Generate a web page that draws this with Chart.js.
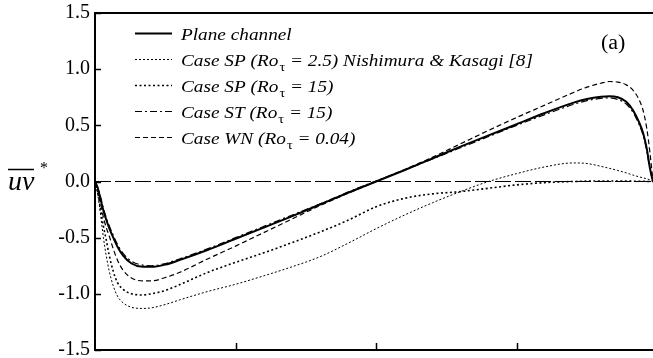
<!DOCTYPE html>
<html>
<head>
<meta charset="utf-8">
<script src="https://cdn.jsdelivr.net/npm/chart.js@4/dist/chart.umd.min.js"></script>
<style>
  html, body { margin: 0; padding: 0; background: #fff; overflow: hidden; }
</style>
</head>
<body>
<canvas id="uvChart" width="653" height="358"></canvas>
<script>
// wall-normal position (0..2) shared by every profile
const xs = [0, 0.01, 0.02, 0.03, 0.04, 0.05, 0.065, 0.08, 0.1, 0.13,
            0.17, 0.2, 0.25, 0.3, 0.4, 0.5, 0.6, 0.7, 0.8, 0.9,
            1.0, 1.1, 1.2, 1.3, 1.4, 1.5, 1.6, 1.7, 1.75, 1.8,
            1.83, 1.86, 1.89, 1.915, 1.935, 1.95, 1.963, 1.974, 1.98, 1.985];

const plane = [0, -0.06, -0.16, -0.26, -0.34, -0.41, -0.5, -0.58, -0.66, -0.73,
               -0.76, -0.76, -0.74, -0.70, -0.61, -0.51, -0.41, -0.31, -0.205, -0.10,
               0, 0.10, 0.205, 0.31, 0.41, 0.51, 0.61, 0.70, 0.735, 0.755,
               0.76, 0.75, 0.71, 0.63, 0.53, 0.43, 0.29, 0.12, 0.05, 0];

const sp25 = [0, -0.12, -0.3, -0.5, -0.66, -0.79, -0.93, -1.02, -1.08, -1.12,
              -1.13, -1.125, -1.095, -1.055, -0.98, -0.915, -0.84, -0.76, -0.67, -0.55,
              -0.42, -0.3, -0.19, -0.09, 0.0, 0.07, 0.13, 0.165, 0.16, 0.135,
              0.117, 0.098, 0.077, 0.056, 0.042, 0.032, 0.024, 0.014, 0.007, 0];

const sp15 = [0, -0.1, -0.25, -0.4, -0.52, -0.65, -0.8, -0.9, -0.96, -1.0,
              -1.01, -1.0, -0.97, -0.92, -0.81, -0.72, -0.635, -0.545, -0.45, -0.345,
              -0.225, -0.15, -0.11, -0.09, -0.06, -0.03, -0.01, 0, 0.003, 0.005,
              0.005, 0.005, 0.004, 0.003, 0.002, 0.002, 0.001, 0, 0, 0];

const st15 = [0, -0.05, -0.14, -0.24, -0.32, -0.39, -0.48, -0.56, -0.64, -0.71,
              -0.745, -0.75, -0.73, -0.69, -0.60, -0.50, -0.40, -0.30, -0.20, -0.095,
              0.005, 0.10, 0.20, 0.30, 0.40, 0.50, 0.595, 0.685, 0.72, 0.74,
              0.745, 0.73, 0.69, 0.61, 0.51, 0.41, 0.27, 0.11, 0.045, 0];

const wn = [0, -0.08, -0.2, -0.32, -0.41, -0.48, -0.6, -0.7, -0.79, -0.86,
            -0.885, -0.885, -0.855, -0.81, -0.69, -0.575, -0.455, -0.335, -0.215, -0.105,
            0, 0.105, 0.215, 0.335, 0.455, 0.57, 0.68, 0.79, 0.84, 0.875,
            0.89, 0.885, 0.86, 0.81, 0.73, 0.63, 0.47, 0.26, 0.12, 0];

const zeroLine = [0, 0];

// legend text: [before subscript, subscript, after subscript]
const legendLabels = [
  ['Plane channel', '', ''],
  ['Case SP (Ro', 'τ', ' = 2.5) Nishimura & Kasagi [8]'],
  ['Case SP (Ro', 'τ', ' = 15)'],
  ['Case ST (Ro', 'τ', ' = 15)'],
  ['Case WN (Ro', 'τ', ' = 0.04)']
];

const yTicks = [-1.5, -1.0, -0.5, 0.0, 0.5, 1.0, 1.5];
const xTicks = [0.5, 1.0, 1.5];

const pts = arr => arr.map((v, i) => ({ x: xs[i], y: v }));
const serif = "'Liberation Serif', 'Times New Roman', serif";

const frame = {
  id: 'frame',
  afterDraw(chart) {
    const { ctx, chartArea: a, scales } = chart;
    ctx.save();
    ctx.strokeStyle = '#000';
    ctx.lineWidth = 2;
    ctx.beginPath();
    ctx.moveTo(a.right + 2, a.top);
    ctx.lineTo(a.left, a.top);
    ctx.lineTo(a.left, a.bottom);
    ctx.lineTo(a.right + 2, a.bottom);
    ctx.stroke();

    ctx.lineWidth = 1.5;
    ctx.beginPath();
    yTicks.forEach(v => {
      const py = Math.round(scales.y.getPixelForValue(v)) + 0.5;
      ctx.moveTo(a.left, py);
      ctx.lineTo(a.left + 6, py);
    });
    xTicks.forEach(v => {
      const px = Math.round(scales.x.getPixelForValue(v)) + 0.5;
      ctx.moveTo(px, a.bottom);
      ctx.lineTo(px, a.bottom - 7);
    });
    ctx.stroke();

    // y axis title: overlined uv with a star
    ctx.fillStyle = '#000';
    ctx.font = 'italic 28px ' + serif;
    ctx.textBaseline = 'alphabetic';
    ctx.textAlign = 'left';
    ctx.fillText('uv', 8, 190);
    ctx.lineWidth = 1.5;
    ctx.beginPath();
    ctx.moveTo(8, 169.5);
    ctx.lineTo(34, 169.5);
    ctx.stroke();
    ctx.font = '16px ' + serif;
    ctx.fillText('*', 40, 173);

    // panel label
    ctx.save();
    ctx.translate(601, 49);
    ctx.scale(1.1, 1);
    ctx.font = '20px ' + serif;
    ctx.fillText('(a)', 0, 0);
    ctx.restore();

    // legend
    const sx = 1.1;
    legendLabels.forEach((lab, i) => {
      const ds = chart.data.datasets[i];
      const ly = 33.5 + i * 26;
      ctx.save();
      ctx.strokeStyle = '#000';
      ctx.lineWidth = ds.borderWidth;
      ctx.setLineDash(ds.borderDash || []);
      ctx.beginPath();
      ctx.moveTo(135, ly);
      ctx.lineTo(172, ly);
      ctx.stroke();
      ctx.restore();

      ctx.save();
      ctx.translate(181, ly + 6);
      ctx.scale(sx, 1);
      ctx.font = 'italic 17.5px ' + serif;
      ctx.fillText(lab[0], 0, 0);
      let w = ctx.measureText(lab[0]).width;
      if (lab[1]) {
        ctx.font = '13px ' + serif;
        ctx.fillText(lab[1], w + 1, 5);
        w += ctx.measureText(lab[1]).width + 1;
        ctx.font = 'italic 17.5px ' + serif;
        ctx.fillText(lab[2], w, 0);
      }
      ctx.restore();
    });
    ctx.restore();
  }
};

const line = (data, width, dash) => ({
  data: pts(data),
  borderColor: '#000',
  borderWidth: width,
  borderDash: dash,
  pointRadius: 0,
  fill: false,
  cubicInterpolationMode: 'monotone'
});

const ctx = document.getElementById('uvChart').getContext('2d');
const uvChart = new Chart(ctx, {
  type: 'line',
  data: {
    datasets: [
      line(plane, 2, []),
      line(sp25, 1, [2, 2]),
      line(sp15, 1.6, [2, 2.5]),
      line(st15, 1.2, [7, 3, 2, 3]),
      line(wn, 1.2, [5, 3]),
      {
        data: [{ x: xs[0], y: zeroLine[0] }, { x: xs[xs.length - 1], y: zeroLine[1] }],
        borderColor: '#000',
        borderWidth: 1.2,
        borderDash: [16, 4],
        pointRadius: 0
      }
    ]
  },
  options: {
    responsive: false,
    devicePixelRatio: 1,
    animation: false,
    layout: { padding: { top: 13, bottom: 8, left: 0, right: 0 } },
    scales: {
      x: {
        type: 'linear',
        min: 0,
        max: 1.985,
        display: false
      },
      y: {
        min: -1.5,
        max: 1.5,
        afterFit: s => {
          s.width = 95;
          s.paddingTop = 0;
          s.paddingBottom = 0;
        },
        border: { display: false },
        grid: { display: false, drawTicks: false },
        ticks: {
          stepSize: 0.5,
          padding: 5,
          color: '#000',
          font: { family: serif, size: 20 },
          callback: v => v.toFixed(1)
        }
      }
    },
    plugins: {
      legend: { display: false },
      tooltip: { enabled: false }
    }
  },
  plugins: [frame]
});
</script>
</body>
</html>
